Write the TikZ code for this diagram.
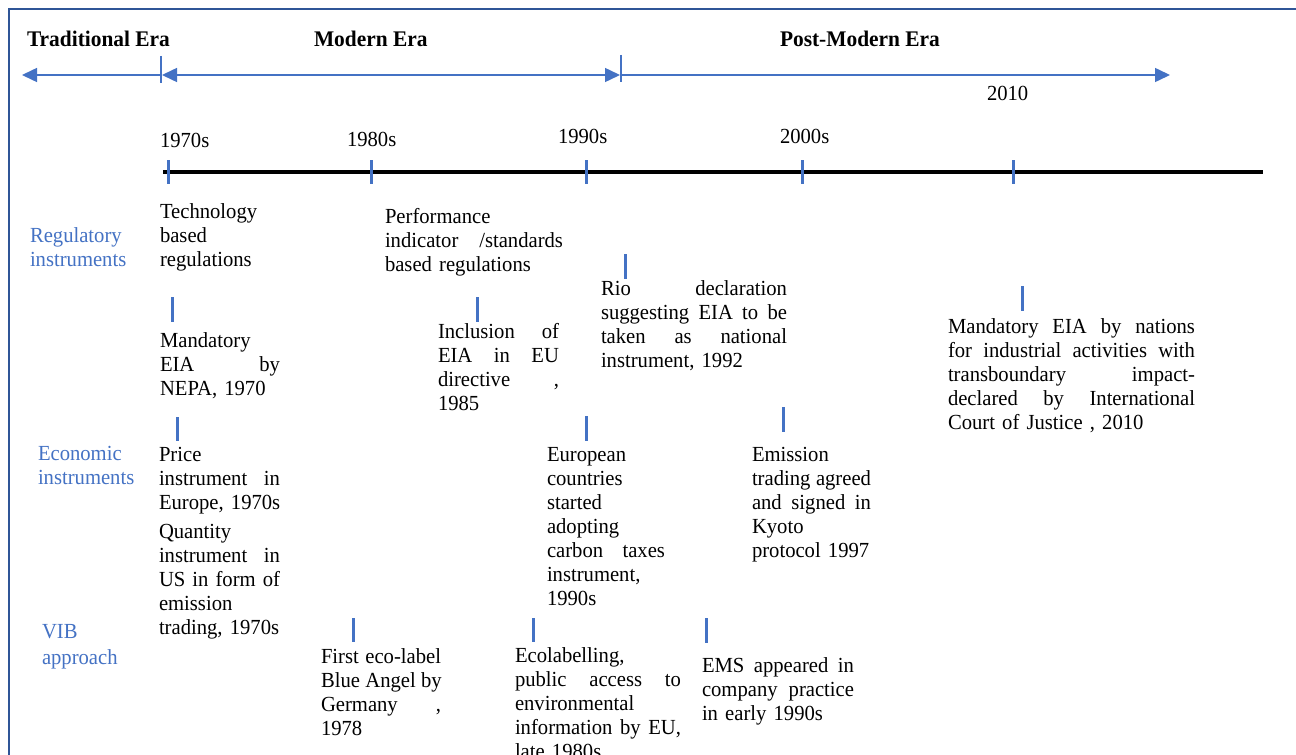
\documentclass[tikz,border=0pt]{standalone}
\usepackage{fontspec}
\setmainfont{Liberation Serif}[FakeStretch=0.96]
\usetikzlibrary{arrows.meta}
\definecolor{wordblue}{RGB}{68,114,196}
\definecolor{frameblue}{RGB}{47,85,151}
% a line stretched to the full width of its block (justified line)
\newcommand\blockw{120bp}
\newcommand\jline[1]{\leavevmode\hbox to \blockw{\spaceskip=0.25em plus 1fil\relax
  \xspaceskip=0.25em plus 1fil\relax #1}}
\tikzset{
  every node/.style={inner sep=0pt, outer sep=0pt, anchor=base west,
    font=\fontsize{21.5bp}{24bp}\selectfont},
  era/.style={font=\fontsize{22.3bp}{24bp}\selectfont\bfseries},
  category/.style={text=wordblue, align=left, text width=140bp},
  event/.style={align=left, text width=#1,
    execute at begin node={\renewcommand\blockw{#1}}},
  event/.default=130bp,
  eraarrow/.style={draw=wordblue, line width=1.5bp},
  eratip/.style={-{Triangle[length=15bp,width=14bp]}},
  divider/.style={draw=wordblue, line width=1.5bp},
  axis/.style={draw=black, line width=4bp},
  tickmark/.style={draw=wordblue, line width=3bp},
}
\begin{document}
\begin{tikzpicture}[x=1bp,y=-1bp]
\clip (0,0) rectangle (1296,755);
\fill[white] (0,0) rectangle (1296,755);

% frame
\draw[frameblue, line width=2.5bp] (9,755) -- (9,9) -- (1296,9);

% eras
\node[era] (trad) at (27,47) {Traditional Era};
\node[era] (modern) at (314,47) {Modern Era};
\node[era] (postmod) at (780,47) {Post-Modern Era};
\node (y2010) at (987,101) {2010};

\coordinate (eL) at (22,75);
\coordinate (e1) at (161,75);
\coordinate (e2) at (621,75);
\coordinate (eR) at (1170,75);
\draw[divider] (161,56) -- (161,83);
\draw[divider] (621,55) -- (621,82);
\draw[eraarrow, eratip] (e1) -- (eL);
\draw[eraarrow, {Triangle[length=15bp,width=14bp]}-{Triangle[length=15bp,width=14bp]}]
  ([xshift=1bp]e1) -- ([xshift=-1bp]e2);
\draw[eraarrow, eratip] (e2) -- (eR);

% time axis
\coordinate (axL) at (163,172);
\coordinate (axR) at (1263,172);
\draw[axis] (axL) -- (axR);
\foreach \x in {168,371,586,802,1013}
  \draw[tickmark] (\x,160) -- (\x,184);
\node (d70) at (160,147) {1970s};
\node (d80) at (347,146) {1980s};
\node (d90) at (558,143) {1990s};
\node (d00) at (780,143) {2000s};

% categories
\node[category] (catreg) at (30,242) {Regulatory\\instruments};
\node[category] (catecon) at (38,460) {Economic\\instruments};
\node[category] (catvib) at (42,638) {VIB\\[2bp]approach};

% regulatory instruments
\node[event=130bp] (tech) at (160,218) {Technology\\based\\regulations};
\draw[tickmark] (172,297) -- (172,322);
\node[event=120bp] (nepa) at (160,347) {Mandatory\\\jline{EIA by}\\NEPA,~1970};
\node[event=178bp] (perf) at (385,223) {Performance\\\jline{indicator /standards}\\based~regulations};
\draw[tickmark] (477,297) -- (477,322);
\node[event=121bp] (incl) at (438,338) {\jline{Inclusion of}\\\jline{EIA in EU}\\\jline{directive ,}\\1985};
\draw[tickmark] (625,254) -- (625,279);
\node[event=186bp] (rio) at (601,295) {\jline{Rio declaration}\\\jline{suggesting EIA to be}\\\jline{taken as national}\\instrument,~1992};
\draw[tickmark] (1022,286) -- (1022,311);
\node[event=247bp] (icj) at (948,333) {\jline{Mandatory EIA by nations}\\\jline{for industrial activities with}\\\jline{transboundary impact-}\\\jline{declared by International}\\Court~of~Justice~,~2010};

% economic instruments
\draw[tickmark] (177,417) -- (177,441);
\node[event=121bp] (price) at (159,461) {Price\\\jline{instrument in}\\Europe,~1970s};
\node[event=121bp] (quant) at (159,538) {Quantity\\\jline{instrument in}\\\jline{US in form of}\\emission\\trading,~1970s};
\draw[tickmark] (586,416) -- (586,441);
\node[event=118bp] (carbon) at (547,461) {European\\countries\\started\\adopting\\\jline{carbon taxes}\\instrument,\\1990s};
\draw[tickmark] (783,407) -- (783,432);
\node[event=119bp] (kyoto) at (752,461) {Emission\\\jline{trading agreed}\\\jline{and signed in}\\Kyoto\\protocol~1997};

% VIB approach
\draw[tickmark] (353,618) -- (353,642);
\node[event=120bp] (angel) at (321,663) {\jline{First eco-label}\\\jline{Blue Angel by}\\\jline{Germany ,}\\1978};
\draw[tickmark] (533,618) -- (533,642);
\node[event=166bp] (ecolab) at (515,662) {Ecolabelling,\\\jline{public access to}\\environmental\\\jline{information by EU,}\\late~1980s};
\draw[tickmark] (706,618) -- (706,643);
\node[event=152bp] (ems) at (702,672) {\jline{EMS appeared in}\\\jline{company practice}\\in~early~1990s};
\end{tikzpicture}
\end{document}
